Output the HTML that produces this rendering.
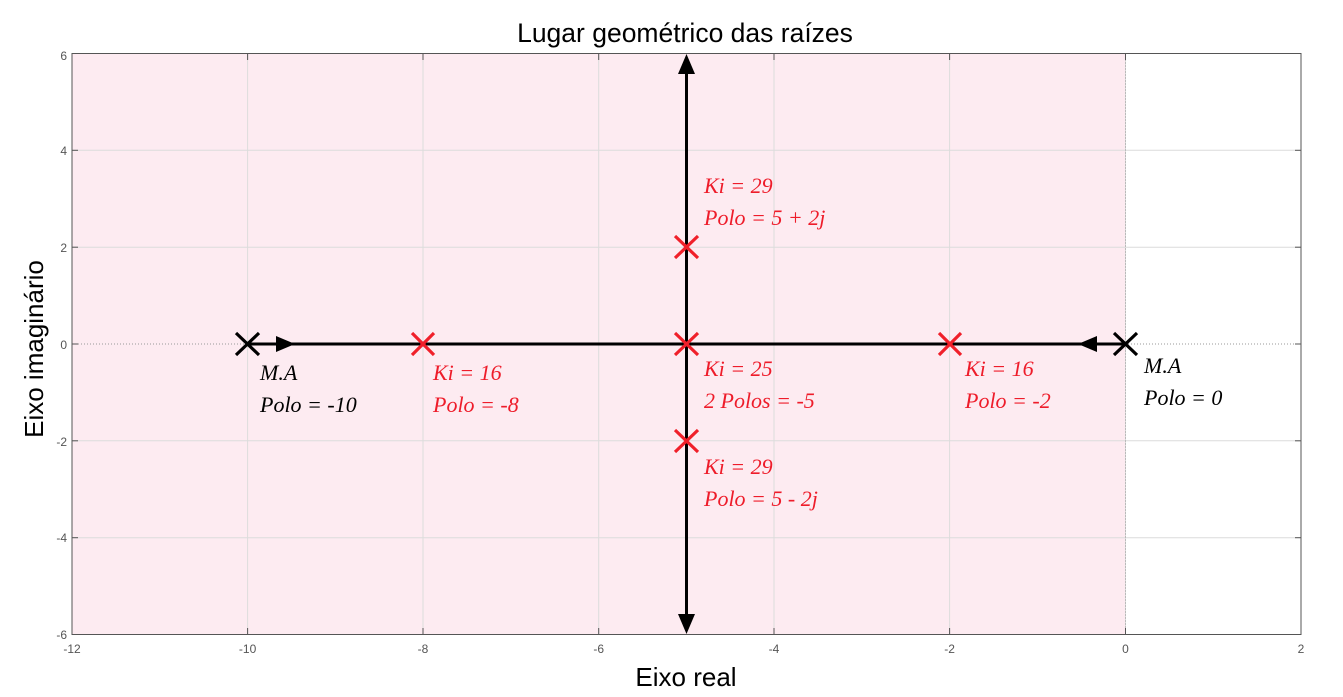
<!DOCTYPE html>
<html><head><meta charset="utf-8"><style>body{margin:0;background:#fff}svg{display:block}</style></head><body>
<svg width="1343" height="697" xmlns="http://www.w3.org/2000/svg" font-family="Liberation Sans, sans-serif">
<rect x="72" y="53.5" width="1053.5" height="581" fill="#fdebf1"/>
<g stroke="#dcdcdc" stroke-width="1">
<line x1="247.6" y1="53.5" x2="247.6" y2="634.5"/><line x1="423" y1="53.5" x2="423" y2="634.5"/><line x1="598.7" y1="53.5" x2="598.7" y2="634.5"/><line x1="774" y1="53.5" x2="774" y2="634.5"/><line x1="949.6" y1="53.5" x2="949.6" y2="634.5"/><line x1="1125.5" y1="53.5" x2="1125.5" y2="634.5"/>
<line x1="72" y1="150.3" x2="1301" y2="150.3"/><line x1="72" y1="247.2" x2="1301" y2="247.2"/><line x1="72" y1="440.8" x2="1301" y2="440.8"/><line x1="72" y1="537.7" x2="1301" y2="537.7"/>
</g>
<line x1="72" y1="344" x2="1301" y2="344" stroke="#999" stroke-dasharray="1,2"/>
<line x1="1125.5" y1="53.5" x2="1125.5" y2="634.5" stroke="#999" stroke-dasharray="1,2"/>
<rect x="72" y="53.5" width="1229" height="581" fill="none" stroke="#555"/>
<g stroke="#555">
<line x1="247.6" y1="634.5" x2="247.6" y2="628"/><line x1="423" y1="634.5" x2="423" y2="628"/><line x1="598.7" y1="634.5" x2="598.7" y2="628"/><line x1="774" y1="634.5" x2="774" y2="628"/><line x1="949.6" y1="634.5" x2="949.6" y2="628"/><line x1="1125.5" y1="634.5" x2="1125.5" y2="628"/>
<line x1="247.6" y1="53.5" x2="247.6" y2="60"/><line x1="423" y1="53.5" x2="423" y2="60"/><line x1="598.7" y1="53.5" x2="598.7" y2="60"/><line x1="774" y1="53.5" x2="774" y2="60"/><line x1="949.6" y1="53.5" x2="949.6" y2="60"/><line x1="1125.5" y1="53.5" x2="1125.5" y2="60"/>
<line x1="72" y1="150.3" x2="78" y2="150.3"/><line x1="72" y1="247.2" x2="78" y2="247.2"/><line x1="72" y1="344" x2="78" y2="344"/><line x1="72" y1="440.8" x2="78" y2="440.8"/><line x1="72" y1="537.7" x2="78" y2="537.7"/>
<line x1="1301" y1="150.3" x2="1295" y2="150.3"/><line x1="1301" y1="247.2" x2="1295" y2="247.2"/><line x1="1301" y1="344" x2="1295" y2="344"/><line x1="1301" y1="440.8" x2="1295" y2="440.8"/><line x1="1301" y1="537.7" x2="1295" y2="537.7"/>
</g>
<g font-size="12" fill="#555" text-anchor="middle">
<text x="72" y="653">-12</text><text x="247.6" y="653">-10</text><text x="423" y="653">-8</text><text x="598.7" y="653">-6</text><text x="774" y="653">-4</text><text x="949.6" y="653">-2</text><text x="1125.5" y="653">0</text><text x="1301" y="653">2</text>
</g>
<g font-size="12" fill="#555" text-anchor="end">
<text x="67" y="60">6</text><text x="67" y="155">4</text><text x="67" y="252">2</text><text x="67" y="349">0</text><text x="67" y="446">-2</text><text x="67" y="542">-4</text><text x="67" y="639">-6</text>
</g>
<text x="685" y="42" font-size="26.5" text-anchor="middle">Lugar geométrico das raízes</text>
<text x="686" y="686" font-size="26" text-anchor="middle">Eixo real</text>
<text transform="translate(43,349) rotate(-90)" font-size="26" text-anchor="middle">Eixo imaginário</text>
<g stroke="#000" stroke-width="3">
<line x1="247.6" y1="344" x2="1125.5" y2="344"/>
<line x1="686.5" y1="65" x2="686.5" y2="624"/>
</g>
<g fill="#000">
<polygon points="276,336 276,352 295,344"/>
<polygon points="1097,336 1097,352 1078,344"/>
<polygon points="678,74 695,74 686.5,54"/>
<polygon points="678,614 695,614 686.5,634"/>
</g>
<g stroke-width="3.2">
<path d="M236,333 L259,355 M259,333 L236,355" stroke="#000"/>
<path d="M1114,333 L1137,355 M1137,333 L1114,355" stroke="#000"/>
<path d="M412,333 L434,355 M434,333 L412,355" stroke="#f0202a"/>
<path d="M939,333 L961,355 M961,333 L939,355" stroke="#f0202a"/>
<path d="M675,333 L698,355 M698,333 L675,355" stroke="#f0202a"/>
<path d="M675,236 L698,258 M698,236 L675,258" stroke="#f0202a"/>
<path d="M675,430 L698,452 M698,430 L675,452" stroke="#f0202a"/>
</g>
<g font-family="Liberation Serif, serif" font-style="italic" font-size="22">
<g fill="#000"><text x="260" y="380">M.A</text><text x="260" y="412">Polo = -10</text>
<text x="1144" y="373">M.A</text><text x="1144" y="405">Polo = 0</text></g>
<g fill="#ee1c2a">
<text x="433" y="380">Ki = 16</text><text x="433" y="412">Polo = -8</text>
<text x="965" y="376">Ki = 16</text><text x="965" y="408">Polo = -2</text>
<text x="704" y="376">Ki = 25</text><text x="704" y="408">2 Polos = -5</text>
<text x="704" y="193">Ki = 29</text><text x="704" y="225">Polo = 5 + 2j</text>
<text x="704" y="474">Ki = 29</text><text x="704" y="506">Polo = 5 - 2j</text>
</g></g>
</svg>
</body></html>
